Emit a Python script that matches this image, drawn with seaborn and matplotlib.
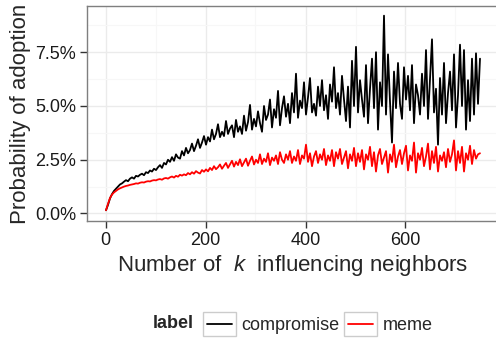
import numpy as np
import pandas as pd
import matplotlib
matplotlib.use('agg')
import matplotlib.pyplot as plt
import seaborn as sns
from matplotlib.ticker import FuncFormatter, MultipleLocator
from matplotlib.legend_handler import HandlerLine2D
from matplotlib.patches import Rectangle
from matplotlib.lines import Line2D

# x grid: number of influencing neighbors (every 4th k)
k_values = np.arange(1, 751, 4)

# probability of adoption in percent
compromise = [
    0.15, 0.40, 0.70, 0.90, 1.05, 1.15, 1.25, 1.35, 1.40, 1.48,
    1.55, 1.50, 1.62, 1.68, 1.62, 1.75, 1.72, 1.80, 1.85, 1.78,
    1.92, 1.88, 2.00, 1.95, 2.08, 2.02, 2.15, 2.25, 2.12, 2.35,
    2.28, 2.50, 2.40, 2.62, 2.45, 2.75, 2.60, 2.55, 2.90, 2.70,
    3.05, 2.80, 2.95, 3.25, 2.90, 3.15, 3.45, 3.05, 3.30, 3.60,
    3.20, 3.55, 3.35, 3.90, 3.45, 3.70, 4.15, 3.55, 3.80, 3.60,
    4.30, 3.70, 3.95, 4.10, 3.55, 4.35, 3.80, 4.05, 3.70, 4.55,
    3.85, 4.25, 5.05, 3.90, 4.40, 4.05, 4.75, 4.20, 3.80, 5.00,
    4.35, 4.60, 5.30, 4.00, 4.85, 4.45, 5.70, 4.10, 4.90, 5.45,
    4.50, 5.10, 4.20, 5.60, 4.70, 6.50, 4.45, 5.25, 4.90, 6.10,
    4.60, 5.40, 6.30, 4.70, 5.10, 4.55, 5.90, 5.00, 6.20, 4.80,
    5.50, 4.40, 6.00, 5.20, 6.80, 4.90, 5.60, 4.60, 6.40, 5.30,
    4.30, 5.90, 4.00, 7.10, 5.00, 7.75, 4.70, 6.20, 5.30, 4.50,
    6.90, 4.20, 5.80, 7.20, 4.90, 7.50, 3.90, 6.10, 5.00, 9.20,
    4.60, 7.40, 5.20, 3.30, 6.60, 4.90, 7.00, 5.10, 4.40, 6.80,
    5.30, 6.40, 4.80, 6.90, 4.20, 6.00, 5.50, 4.60, 6.50, 5.00,
    7.60, 4.40, 6.20, 8.10, 4.70, 5.80, 3.20, 6.30, 4.60, 7.00,
    4.20, 5.60, 6.60, 4.80, 7.40, 4.00, 5.50, 7.85, 5.00, 7.60,
    3.90, 6.20, 4.30, 7.20, 4.60, 7.45, 5.10, 7.20,
]
meme = [
    0.15, 0.45, 0.72, 0.88, 0.98, 1.05, 1.12, 1.17, 1.21, 1.25,
    1.28, 1.30, 1.33, 1.35, 1.37, 1.40, 1.39, 1.43, 1.45, 1.44,
    1.48, 1.50, 1.49, 1.53, 1.55, 1.54, 1.58, 1.60, 1.57, 1.63,
    1.65, 1.62, 1.68, 1.72, 1.67, 1.75, 1.71, 1.80, 1.76, 1.82,
    1.78, 1.88, 1.82, 1.92, 1.85, 1.97, 1.90, 1.86, 2.02, 1.94,
    2.05, 1.96, 2.12, 2.02, 2.20, 2.06, 2.15, 2.28, 2.08, 2.22,
    2.35, 2.12, 2.28, 2.45, 2.18, 2.40, 2.25, 2.52, 2.20, 2.38,
    2.55, 2.22, 2.45, 2.65, 2.28, 2.50, 2.35, 2.75, 2.30, 2.55,
    2.40, 2.80, 2.25, 2.60, 2.45, 2.70, 2.30, 2.85, 2.50, 2.35,
    2.75, 2.50, 2.90, 2.35, 2.65, 2.45, 2.95, 2.30, 2.70, 2.55,
    3.20, 2.40, 2.80, 2.20, 2.65, 2.90, 2.35, 2.75, 2.50, 3.00,
    2.25, 2.70, 2.45, 2.95, 2.20, 2.85, 2.55, 3.00, 2.30, 2.60,
    2.90, 2.10, 2.75, 2.45, 3.05, 2.20, 2.80, 2.40, 2.95, 2.05,
    2.75, 2.50, 3.10, 2.20, 2.85, 1.95, 2.70, 3.00, 2.30, 2.60,
    2.90, 1.90, 2.75, 2.40, 3.20, 2.15, 2.65, 2.95, 2.30, 2.80,
    3.15, 2.00, 2.70, 2.45, 3.30, 1.90, 2.80, 2.50, 3.05, 2.20,
    2.65, 3.25, 2.05, 2.90, 2.35, 3.10, 1.95, 2.70, 2.45, 2.85,
    2.15, 3.00, 2.40, 2.75, 3.40, 2.00, 2.90, 2.35, 3.10, 1.95,
    2.80, 2.50, 3.15, 2.30, 2.95, 2.55, 2.75, 2.80,
]
labels = ['compromise', 'meme']
colors = {'compromise': 'black', 'meme': 'red'}

df = pd.concat([
    pd.DataFrame({'k': k_values, 'prob': compromise, 'label': 'compromise'}),
    pd.DataFrame({'k': k_values, 'prob': meme, 'label': 'meme'}),
])

sns.set_theme(style='white')
plt.rcParams['font.family'] = ['Liberation Sans', 'DejaVu Sans']
plt.rcParams['mathtext.fontset'] = 'custom'
plt.rcParams['mathtext.it'] = 'Liberation Sans:italic'
plt.rcParams['mathtext.rm'] = 'Liberation Sans'

fig = plt.figure(figsize=(4.96, 3.41), dpi=100)
ax = fig.add_axes([87 / 496, 120 / 341, 412 / 496, 215 / 341])

sns.lineplot(data=df, x='k', y='prob', hue='label', hue_order=labels,
             palette=colors, linewidth=1.3, legend=False, ax=ax)

ax.set_xlim(-37, 787)
ax.set_ylim(-0.35, 9.65)
ax.xaxis.set_major_locator(MultipleLocator(200))
ax.xaxis.set_minor_locator(MultipleLocator(100))
ax.yaxis.set_major_locator(MultipleLocator(2.5))
ax.yaxis.set_minor_locator(MultipleLocator(1.25))
ax.yaxis.set_major_formatter(FuncFormatter(lambda v, p: f'{v:.1f}%'))

ax.grid(which='major', color='#EBEBEB', linewidth=1.0)
ax.grid(which='minor', color='#F7F7F7', linewidth=0.8)
ax.set_axisbelow(True)
for s in ax.spines.values():
    s.set_color('#7F7F7F')
    s.set_linewidth(1.0)

ax.tick_params(which='major', direction='out', length=5, width=1, color='#333333',
               labelsize=13, labelcolor='#1A1A1A', pad=3, bottom=True, left=True)
ax.tick_params(which='minor', length=0)

ax.set_xlabel('Number of  $k$  influencing neighbors', fontsize=16, labelpad=3)
ax.set_ylabel('Probability of adoption', fontsize=16, labelpad=3)


class BoxedLine(HandlerLine2D):
    def create_artists(self, legend, orig_handle, xdescent, ydescent,
                       width, height, fontsize, trans):
        arts = super().create_artists(legend, orig_handle, xdescent, ydescent,
                                      width, height, fontsize, trans)
        box = Rectangle((-xdescent, -ydescent), width, height, facecolor='white',
                        edgecolor='#CCCCCC', linewidth=1.0, transform=trans)
        ymid = height / 2 - ydescent
        for a in arts:
            if isinstance(a, Line2D):
                a.set_data([-xdescent + 0.12 * width, -xdescent + 0.88 * width],
                           [ymid, ymid])
        return [box] + arts


handles = [Line2D([], [], color=colors[l], linewidth=1.3) for l in labels]
fig.legend(handles, labels, loc='center left', bbox_to_anchor=(203 / 496, 17 / 341),
           ncol=2, frameon=False, fontsize=13, handlelength=1.8, handleheight=1.75,
           handletextpad=0.3, columnspacing=0.3, borderpad=0, borderaxespad=0,
           handler_map={Line2D: BoxedLine()})
fig.text(153 / 496, 17 / 341, 'label', fontsize=13, fontweight='bold',
         ha='left', va='center')

fig.savefig('out.png', dpi=100)
